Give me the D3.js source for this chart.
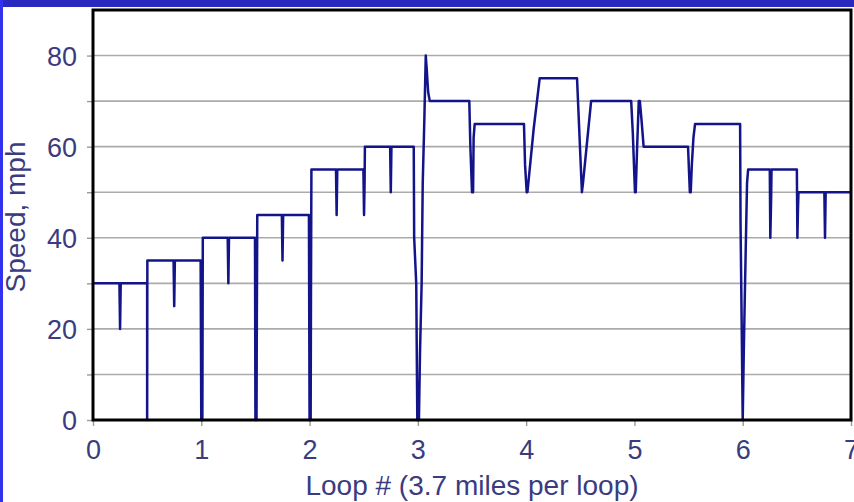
<!DOCTYPE html>
<html>
<head>
<meta charset="utf-8">
<script src="https://cdn.jsdelivr.net/npm/d3@7"></script>
<style>
  html, body { margin: 0; padding: 0; background: #ffffff; overflow: hidden; }
  svg { display: block; }
  text { font-family: "Liberation Sans", Arial, Helvetica, sans-serif; }
</style>
</head>
<body>
<svg id="chart" width="854" height="502"></svg>
<script>
// Vehicle speed trace around the test loop: position (loop number) and speed (mph)
const loopPos = [
  0.000,
  0.244, 0.250, 0.256,
  0.500, 0.500, 0.502,
  0.744, 0.750, 0.756,
  0.994, 1.000, 1.010, 1.014,
  1.244, 1.250, 1.256,
  1.496, 1.500, 1.510, 1.513, 1.517,
  1.744, 1.750, 1.756,
  1.994, 2.000, 2.010, 2.013, 2.017,
  2.244, 2.250, 2.256,
  2.497, 2.503, 2.508, 2.511,
  2.744, 2.750, 2.756,
  2.962, 2.966, 2.985, 2.995, 3.010, 3.020, 3.035, 3.045, 3.060, 3.073, 3.082, 3.095, 3.110,
  3.475, 3.485, 3.500, 3.510, 3.515, 3.525,
  3.980, 3.990, 4.005, 4.012, 4.070, 4.125,
  4.470, 4.515, 4.525, 4.600,
  4.970, 4.985, 5.005, 5.012, 5.025, 5.040, 5.050, 5.065, 5.085,
  5.495, 5.505, 5.512, 5.520, 5.530, 5.545, 5.560,
  5.976, 5.980, 5.990, 6.000, 6.010, 6.020, 6.040, 6.050,
  6.250, 6.255, 6.262, 6.266,
  6.500, 6.505, 6.510, 6.515,
  6.754, 6.760, 6.766,
  7.000
];
const speedMph = [
  30,
  30, 20, 30,
  30, 0, 35,
  35, 25, 35,
  35, 0, 0, 40,
  40, 30, 40,
  40, 0, 0, 22, 45,
  45, 35, 45,
  45, 0, 0, 28, 55,
  55, 45, 55,
  55, 45, 52, 60,
  60, 50, 60,
  60, 40, 30, 0, 0, 15, 30, 52, 66, 80, 77, 72, 70,
  70, 60, 50, 50, 62, 65,
  65, 56, 50, 50, 64, 75,
  75, 50, 52, 70,
  70, 63, 50, 50, 60, 70, 70, 66, 60,
  60, 54, 50, 50, 56, 62, 65,
  65, 43, 22, 0, 15, 28, 52, 55,
  55, 40, 48, 55,
  55, 40, 46, 50,
  50, 40, 50,
  50
];

// Axis ticks and labels
const xTicks = [0, 1, 2, 3, 4, 5, 6, 7];
const yTicks = [0, 10, 20, 30, 40, 50, 60, 70, 80];
const yLabelled = [0, 20, 40, 60, 80];
const yGrid = [10, 20, 30, 40, 50, 60, 70, 80];
const xTitle = "Loop # (3.7 miles per loop)";
const yTitle = "Speed, mph";

const labelColor = "#3b3b80";
const lineColor = "#14148a";

const svg = d3.select("#chart");

// Slide frame: blue band along the top and a strip down the left edge
svg.append("rect").attr("x", 0).attr("y", 0).attr("width", 854).attr("height", 502).attr("fill", "#ffffff");
svg.append("rect").attr("x", 0).attr("y", 0).attr("width", 854).attr("height", 7).attr("fill", "#2929c2");
svg.append("rect").attr("x", 0).attr("y", 0).attr("width", 3).attr("height", 502).attr("fill", "#3232ee");

const x = d3.scaleLinear().domain([0, 7]).range([93, 851]);
const y = d3.scaleLinear().domain([0, 90]).range([420, 10]);

// Horizontal gridlines
svg.append("g")
  .selectAll("line")
  .data(yGrid)
  .join("line")
  .attr("x1", x(0)).attr("x2", x(7))
  .attr("y1", d => y(d)).attr("y2", d => y(d))
  .attr("stroke", "#ababab")
  .attr("stroke-width", 1.6);

// Y axis
const yAxis = svg.append("g")
  .attr("transform", `translate(${x(0)},0)`)
  .call(d3.axisLeft(y)
    .tickValues(yTicks)
    .tickSize(6)
    .tickPadding(10)
    .tickFormat(d => yLabelled.includes(d) ? String(d) : ""));
yAxis.select(".domain").remove();
yAxis.selectAll(".tick line").attr("stroke", "#9a9a9a").attr("stroke-width", 1.4);
yAxis.selectAll(".tick text")
  .attr("fill", labelColor)
  .attr("font-size", 27)
  .attr("dy", "0.36em")
  .attr("font-family", "Liberation Sans, Arial, sans-serif");

// X axis
const xAxis = svg.append("g")
  .attr("transform", `translate(0,${y(0)})`)
  .call(d3.axisBottom(x)
    .tickValues(xTicks)
    .tickSize(6)
    .tickPadding(14)
    .tickFormat(d3.format("d")));
xAxis.select(".domain").remove();
xAxis.selectAll(".tick line").attr("stroke", "#9a9a9a").attr("stroke-width", 1.4);
xAxis.selectAll(".tick text")
  .attr("fill", labelColor)
  .attr("font-size", 27)
  .attr("dy", "0.72em")
  .attr("font-family", "Liberation Sans, Arial, sans-serif");

// Speed trace
const pts = loopPos.map((p, i) => [p, speedMph[i]]);
svg.append("path")
  .datum(pts)
  .attr("fill", "none")
  .attr("stroke", lineColor)
  .attr("stroke-width", 2.5)
  .attr("stroke-linejoin", "round")
  .attr("d", d3.line().x(d => x(d[0])).y(d => y(d[1])));

// Plot frame
svg.append("rect")
  .attr("x", x(0)).attr("y", y(90))
  .attr("width", x(7) - x(0)).attr("height", y(0) - y(90))
  .attr("fill", "none")
  .attr("stroke", "#000000")
  .attr("stroke-width", 3);

// Axis titles
svg.append("text")
  .attr("x", (x(0) + x(7)) / 2)
  .attr("y", 495)
  .attr("text-anchor", "middle")
  .attr("font-size", 28)
  .attr("fill", labelColor)
  .text(xTitle);

svg.append("text")
  .attr("transform", `translate(25,${(y(0) + y(90)) / 2 + 2}) rotate(-90)`)
  .attr("text-anchor", "middle")
  .attr("font-size", 28)
  .attr("fill", labelColor)
  .text(yTitle);
</script>
</body>
</html>
